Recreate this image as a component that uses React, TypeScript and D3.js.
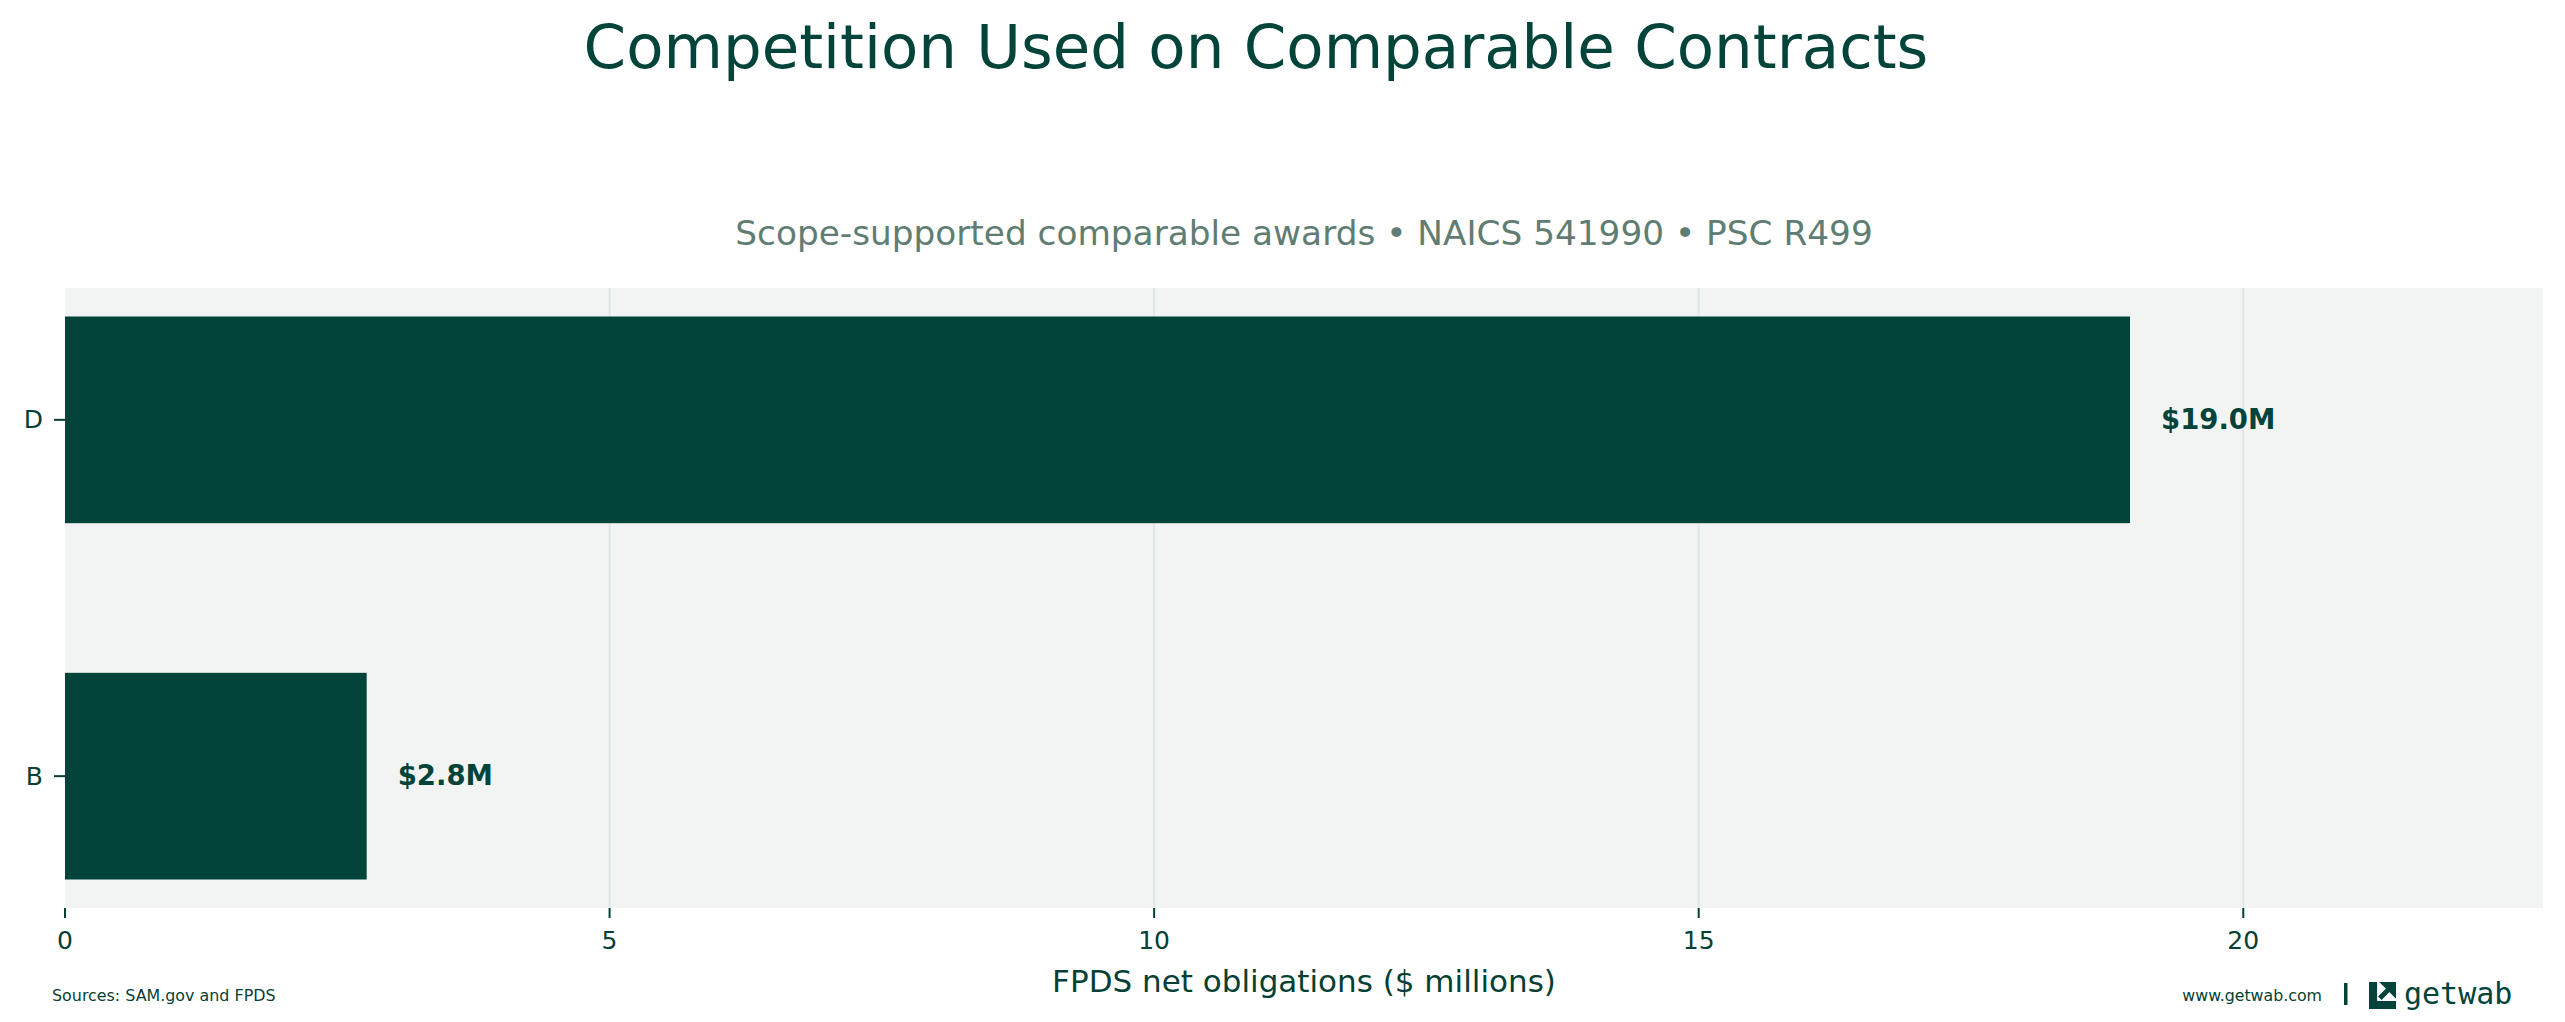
import React from 'react';
import * as d3 from 'd3';

const WIDTH = 2565;
const HEIGHT = 1022;
const MARGIN = { top: 288, right: 22, bottom: 114, left: 65 };

const FONT = 'DejaVu Sans, Verdana, sans-serif';
const DARK = '#03443a';
const TEXT = '#063f35';

const TITLE = 'Competition Used on Comparable Contracts';
const SUBTITLE = 'Scope-supported comparable awards \u2022 NAICS 541990 \u2022 PSC R499';
const X_LABEL = 'FPDS net obligations ($ millions)';

// competition codes, top to bottom
const categories = ['D', 'B'];
const values = [18.96, 2.77];
const valueLabels = ['$19.0M', '$2.8M'];
const xTicks = [0, 5, 10, 15, 20];

export default function App() {
  const boundsWidth = WIDTH - MARGIN.left - MARGIN.right;
  const boundsHeight = HEIGHT - MARGIN.top - MARGIN.bottom;

  const xMax = (d3.max(values) || 10) * 1.2;
  const xScale = d3.scaleLinear().domain([0, xMax]).range([0, boundsWidth]);
  const yScale = d3
    .scaleBand()
    .domain(categories)
    .range([0, boundsHeight])
    .paddingInner(0.42)
    .paddingOuter(0.08);

  const grid = xTicks.map((t, i) => (
    <g key={i}>
      {t > 0 && (
        <line x1={xScale(t)} x2={xScale(t)} y1={0} y2={boundsHeight} stroke="#dde7e3" strokeWidth={2} />
      )}
      <line x1={xScale(t)} x2={xScale(t)} y1={boundsHeight} y2={boundsHeight + 10} stroke={TEXT} strokeWidth={2} />
      <text
        x={xScale(t)}
        y={boundsHeight + 41}
        textAnchor="middle"
        fontSize={25}
        fill={TEXT}
      >
        {t}
      </text>
    </g>
  ));

  const bars = categories.map((c, i) => {
    const y = yScale(c);
    if (y === undefined) return null;
    const mid = y + yScale.bandwidth() / 2;
    return (
      <g key={c}>
        <rect x={xScale(0)} y={y} width={xScale(values[i]) - xScale(0)} height={yScale.bandwidth()} fill={DARK} />
        <text
          x={xScale(values[i]) + 31}
          y={mid - 1}
          dominantBaseline="central"
          fontSize={27.5}
          fontWeight="bold"
          fill={DARK}
        >
          {valueLabels[i]}
        </text>
        <line x1={-11} x2={0} y1={mid} y2={mid} stroke={TEXT} strokeWidth={2} />
        <text x={-22} y={mid} textAnchor="end" dominantBaseline="central" fontSize={25} fill={TEXT}>
          {c}
        </text>
      </g>
    );
  });

  // getwab logo mark
  const lx = 2369;
  const ly = 982;
  const ls = 27;

  return (
    <div>
      <style>{'body{margin:0}'}</style>
      <svg width={WIDTH} height={HEIGHT} style={{ display: 'block', background: '#fff' }} fontFamily={FONT}>
        <text x={1256} y={68} textAnchor="middle" fontSize={61} fill={DARK}>
          {TITLE}
        </text>
        <text x={MARGIN.left + boundsWidth / 2} y={245} textAnchor="middle" fontSize={34.3} fill="#5f7d72">
          {SUBTITLE}
        </text>

        <g transform={`translate(${MARGIN.left},${MARGIN.top})`}>
          <rect x={0} y={0} width={boundsWidth} height={boundsHeight} fill="#f2f4f3" />
          {grid}
          {bars}
        </g>

        <text x={MARGIN.left + boundsWidth / 2} y={992} textAnchor="middle" fontSize={31} fill={TEXT}>
          {X_LABEL}
        </text>

        <text x={52} y={1001} fontSize={15.9} fill={TEXT}>
          Sources: SAM.gov and FPDS
        </text>
        <text x={2322} y={1001} textAnchor="end" fontSize={15.8} fill={TEXT}>
          www.getwab.com
        </text>
        <rect x={2344} y={983} width={3.5} height={22} fill={DARK} />

        <g>
          <path
            d={`M${lx},${ly} h${ls * 0.3} v${ls * 0.7} h${ls * 0.7} v${ls * 0.3} h${-ls} Z`}
            fill={DARK}
          />
          <path
            d={`M${lx + ls * 0.38},${ly} h${ls * 0.62} v${ls * 0.62} Z`}
            fill={DARK}
          />
          <line
            x1={lx + ls * 0.4}
            y1={ly + ls * 0.6}
            x2={lx + ls * 0.86}
            y2={ly + ls * 0.14}
            stroke={DARK}
            strokeWidth={5}
          />
        </g>
        <text x={2404} y={1004} fontSize={30} fontFamily="DejaVu Sans Mono, monospace" fill={DARK}>
          getwab
        </text>
      </svg>
    </div>
  );
}
